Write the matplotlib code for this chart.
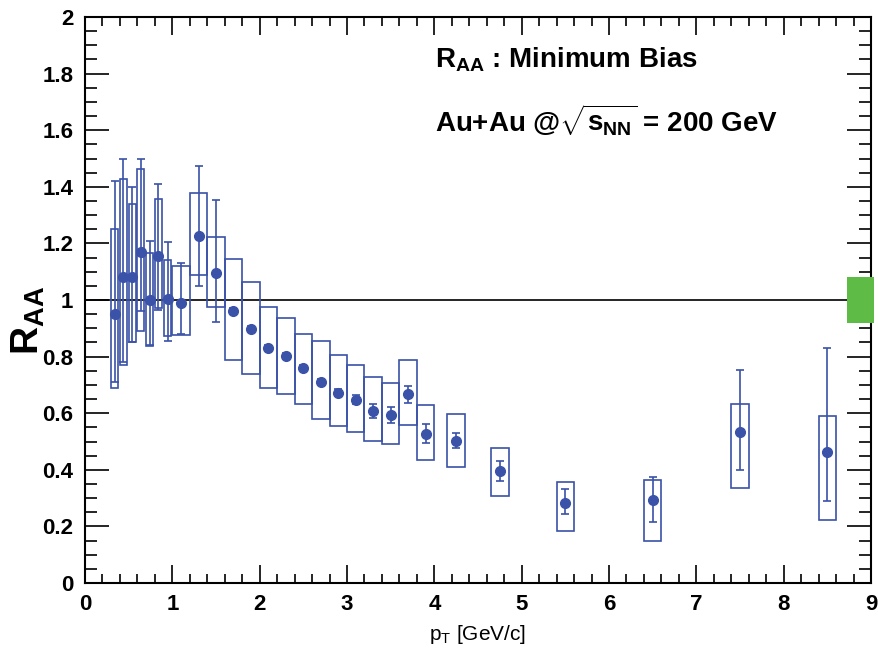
import numpy as np
import matplotlib
matplotlib.use('Agg')
import matplotlib.pyplot as plt
from matplotlib.patches import Rectangle
from matplotlib.ticker import MultipleLocator, FormatStrFormatter

plt.rcParams['font.family'] = ['Liberation Sans', 'DejaVu Sans']
plt.rcParams['mathtext.fontset'] = 'custom'
plt.rcParams['mathtext.rm'] = 'Liberation Sans'
plt.rcParams['mathtext.bf'] = 'Liberation Sans:bold'
plt.rcParams['mathtext.it'] = 'Liberation Sans'

# data
pt = [0.34, 0.44, 0.54, 0.64, 0.74, 0.84, 0.95, 1.1, 1.3, 1.5, 1.7, 1.9, 2.1, 2.3,
      2.5, 2.7, 2.9, 3.1, 3.3, 3.5, 3.7, 3.9, 4.25, 4.75, 5.5, 6.5, 7.5, 8.5]
raa = [0.95, 1.08, 1.08, 1.17, 1.00, 1.155, 1.005, 0.99, 1.225, 1.096, 0.962, 0.898,
       0.832, 0.803, 0.761, 0.710, 0.673, 0.648, 0.608, 0.594, 0.667, 0.528, 0.503,
       0.397, 0.284, 0.294, 0.532, 0.464]
stat_lo = [0.24, 0.30, 0.23, 0.21, 0.16, 0.19, 0.15, 0.11, 0.176, 0.174, 0.01, 0.01,
           0.01, 0.01, 0.01, 0.01, 0.012, 0.016, 0.024, 0.027, 0.03, 0.034, 0.027,
           0.035, 0.041, 0.079, 0.134, 0.173]
stat_hi = [0.47, 0.42, 0.32, 0.33, 0.21, 0.255, 0.20, 0.14, 0.25, 0.258, 0.01, 0.01,
           0.01, 0.01, 0.01, 0.01, 0.012, 0.016, 0.024, 0.027, 0.03, 0.034, 0.027,
           0.035, 0.048, 0.082, 0.22, 0.367]
sys_lo = [0.689, 0.772, 0.851, 0.892, 0.836, 0.972, 0.872, 0.878, 1.089, 0.975, 0.789,
          0.74, 0.688, 0.667, 0.634, 0.581, 0.556, 0.534, 0.502, 0.49, 0.557, 0.434,
          0.41, 0.309, 0.182, 0.149, 0.335, 0.223]
sys_hi = [1.252, 1.427, 1.34, 1.463, 1.167, 1.356, 1.14, 1.12, 1.377, 1.222, 1.145,
          1.062, 0.975, 0.935, 0.881, 0.855, 0.807, 0.772, 0.729, 0.708, 0.789, 0.628,
          0.598, 0.477, 0.357, 0.365, 0.633, 0.591]
norm_lo, norm_hi = 0.917, 1.082

blue = '#3a52a8'
green = '#5dbb46'

fig = plt.figure(figsize=(8.79, 6.52), dpi=100)
ax = fig.add_axes([85/879, 1-583/652, (871-85)/879, (583-17)/652])

ax.axhline(1.0, color='black', lw=1.2, zorder=1)

for x, lo, hi in zip(pt, sys_lo, sys_hi):
    hw = 0.04 if x < 1 else 0.1
    ax.add_patch(Rectangle((x-hw, lo), 2*hw, hi-lo, fill=False,
                           edgecolor=blue, lw=1.2, zorder=2))

ax.errorbar(pt, raa, yerr=[stat_lo, stat_hi], fmt='o', color=blue, ms=7,
            elinewidth=1.2, capsize=2.8, capthick=1.2, zorder=3)

ax.add_patch(Rectangle((8.72, norm_lo), 0.31, norm_hi-norm_lo, facecolor=green,
                       edgecolor='none', clip_on=False, zorder=4))

ax.set_xlim(0, 9)
ax.set_ylim(0, 2)
ax.xaxis.set_major_locator(MultipleLocator(1))
ax.xaxis.set_minor_locator(MultipleLocator(0.2))
ax.yaxis.set_major_locator(MultipleLocator(0.2))
ax.yaxis.set_minor_locator(MultipleLocator(0.05))
ax.yaxis.set_major_formatter(FormatStrFormatter('%g'))
ax.tick_params(which='both', direction='in', top=True, right=True, width=1.2)
ax.tick_params(axis='x', which='major', length=13, pad=8)
ax.tick_params(axis='x', which='minor', length=6.5)
ax.tick_params(axis='y', which='major', length=17, pad=8.5)
ax.tick_params(axis='y', which='minor', length=8.5)
for lab in ax.get_xticklabels() + ax.get_yticklabels():
    lab.set_fontweight('bold')
    lab.set_fontsize(16)
for s in ax.spines.values():
    s.set_linewidth(1.5)

ax.set_xlabel(r'p$_{\mathregular{T}}$ [GeV/c]', fontsize=15, labelpad=6)
fig.text(28/879, 1-320/652, r'$\mathbf{R}_{\mathbf{AA}}$', fontsize=28,
         rotation=90, ha='center', va='center')

fig.text(435/879, 1-67/652, r'$\mathbf{R}_{\mathbf{AA}}$' + ' : Minimum Bias',
         fontsize=20, fontweight='bold', va='baseline')
fig.text(435/879, 1-131/652,
         r'Au+Au @$\sqrt{\mathbf{s}_{\mathbf{NN}}}$ = 200 GeV',
         fontsize=20, fontweight='bold', va='baseline')

fig.savefig('out.png', dpi=100)
